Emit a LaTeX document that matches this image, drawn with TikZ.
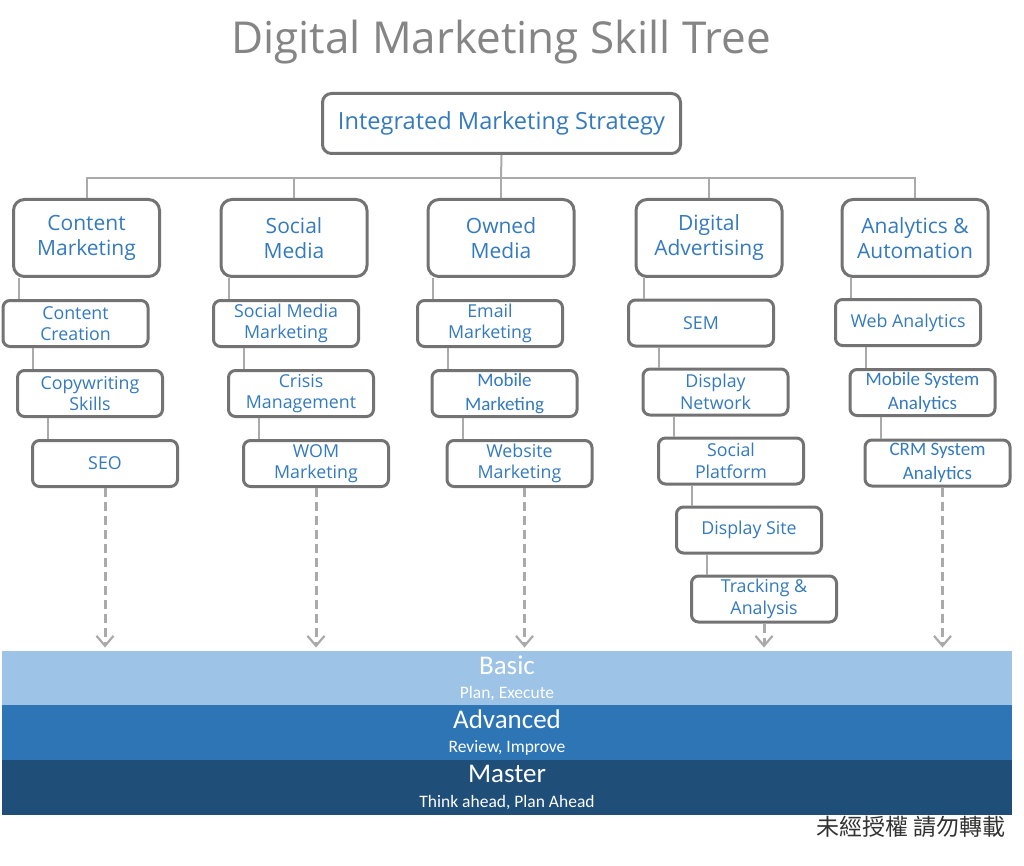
\documentclass[tikz,border=0pt]{standalone}
\usepackage{fontspec}
\setmainfont{Open Sans}
\newfontfamily\bandfont{Carlito}
\newfontfamily\cjkfont{Noto Sans CJK TC}
\usetikzlibrary{arrows.meta}
\definecolor{txtblue}{RGB}{52,122,190}
\definecolor{boxgray}{RGB}{115,115,115}
\definecolor{linegray}{RGB}{170,170,170}
\definecolor{basicblue}{RGB}{157,195,230}
\definecolor{advblue}{RGB}{46,117,182}
\definecolor{masterblue}{RGB}{31,78,121}

\begin{document}
\begin{tikzpicture}[x=1pt,y=-1pt,
  skill/.style={draw=boxgray,line width=3pt,rounded corners=9pt,fill=white,
    text=txtblue,align=center,inner sep=0pt},
  topbox/.style={skill,minimum width=358,minimum height=60,
    font=\fontsize{23.6}{26}\selectfont},
  catbox/.style={skill,minimum width=146,minimum height=77,rounded corners=11pt,
    font=\fontsize{21}{25}\selectfont},
  subbox/.style={skill,minimum width=145,minimum height=46,rounded corners=7pt,
    font=\fontsize{17.8}{21.5}\selectfont},
  subalt/.style={subbox,font=\bandfont\fontsize{19}{24}\selectfont},
  link/.style={draw=linegray,line width=2pt},
  down/.style={draw=linegray,line width=3pt,dash pattern=on 9pt off 5pt,
    -{Straight Barb[length=10pt,width=17pt,line width=2.2pt]},shorten >=3pt},
  band/.style={minimum width=1010,minimum height=54.5,inner sep=0pt,
    text=white,align=center,font=\bandfont}]
\useasboundingbox (0,0) rectangle (1024,866);

\node[font=\fontsize{44}{50}\selectfont,text=black!48] (title) at (501,42) {Digital Marketing Skill Tree};
\node[topbox] (ims) at (501.5,123.5) {Integrated Marketing Strategy};

\node[catbox] (c) at (86.5,238) {Content\\Marketing};
\node[catbox] (s) at (294,238) {Social\\Media};
\node[catbox] (o) at (501,238) {Owned\\Media};
\node[catbox] (d) at (709,238) {Digital\\Advertising};
\node[catbox] (a) at (915,238) {Analytics \&\\Automation};

\node[subbox] (cc) at (75.5,323.5) {Content\\Creation};
\node[subbox] (ccc) at (90,393.5) {Copywriting\\Skills};
\node[subbox] (cccc) at (105,463.5) {SEO};

\node[subbox] (ss) at (286,323.5) {Social Media\\Marketing};
\node[subbox] (sss) at (301,393.5) {Crisis\\Management};
\node[subbox] (ssss) at (316,463.5) {WOM\\Marketing};

\node[subbox] (oo) at (490,323.5) {Email\\Marketing};
\node[subalt] (ooo) at (504.5,393.5) {Mobile\\Marketing};
\node[subbox] (oooo) at (519.5,463.5) {Website\\Marketing};

\node[subbox] (dd) at (701,323) {SEM};
\node[subbox] (ddd) at (715.5,392) {Display\\Network};
\node[subbox] (dddd) at (731,461) {Social\\Platform};
\node[subbox] (ddddd) at (749,530) {Display Site};
\node[subbox] (dddddd) at (764,599) {Tracking \&\\Analysis};

\node[subbox] (aa) at (908,322.5) {Web Analytics};
\node[subalt] (aaa) at (922.5,392.5) {Mobile System\\Analytics};
\node[subalt] (aaaa) at (937.5,463) {CRM System\\Analytics};

\node[band,fill=basicblue] (basic) at (507,678) {{\fontsize{27}{27}\selectfont Basic}\\[11pt]{\fontsize{17.5}{17.5}\selectfont Plan, Execute}};
\node[band,fill=advblue] (adv) at (507,732.5) {{\fontsize{27}{27}\selectfont Advanced}\\[11pt]{\fontsize{17.5}{17.5}\selectfont Review, Improve}};
\node[band,fill=masterblue] (master) at (507,787.5) {{\fontsize{27}{27}\selectfont Master}\\[11pt]{\fontsize{17.5}{17.5}\selectfont Think ahead, Plan Ahead}};

\node[anchor=east,text=black!80,font=\cjkfont\fontsize{23}{25}\selectfont] (note) at (1009,827) {未經授權 請勿轉載};

% tree lines
\coordinate (bus) at (501,178);
\draw[link] (ims.south) -- (bus);
\foreach \n in {c,s,o,d,a}
  \draw[link] (\n.north) |- (bus);
\foreach \p/\q in {c/cc,cc/ccc,ccc/cccc,s/ss,ss/sss,sss/ssss,o/oo,oo/ooo,ooo/oooo,
    d/dd,dd/ddd,ddd/dddd,dddd/ddddd,ddddd/dddddd,a/aa,aa/aaa,aaa/aaaa}
  \draw[link] ([xshift=17]\q.north west) -- ([xshift=17]\q.north west |- \p.south);

% arrows to the levels
\foreach \n in {cccc,ssss,dddddd}
  \draw[down] (\n.south) -- (\n.south |- basic.north);
\foreach \n in {oooo,aaaa}
  \draw[down] ([xshift=5]\n.south) -- ([xshift=5]\n.south |- basic.north);
\end{tikzpicture}
\end{document}
